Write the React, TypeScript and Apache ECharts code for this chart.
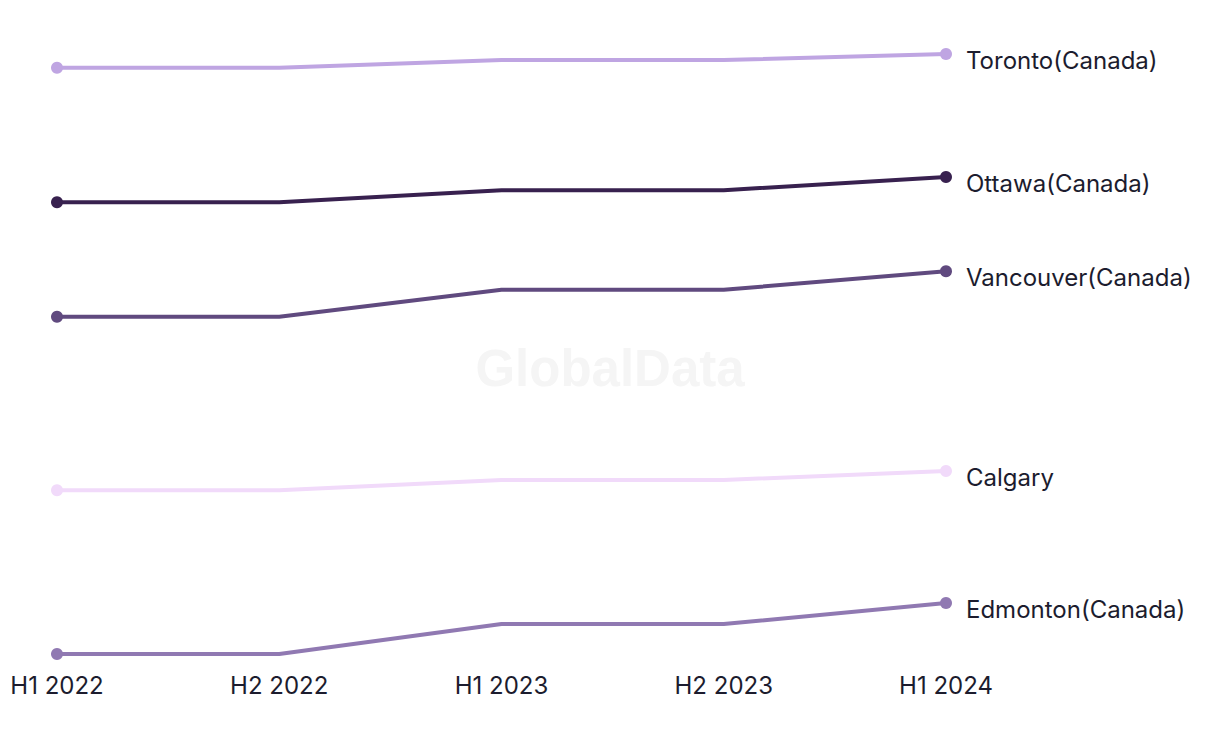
import React, { useEffect, useRef } from "react";
import * as echarts from "echarts";

const categories = ["H1 2022", "H2 2022", "H1 2023", "H2 2023", "H1 2024"];
const seriesNames = ["Toronto(Canada)", "Ottawa(Canada)", "Vancouver(Canada)", "Calgary", "Edmonton(Canada)"];
const toronto = [97.7, 97.7, 99.0, 99.0, 100.0];
const ottawa = [75.3, 75.3, 77.3, 77.3, 79.5];
const vancouver = [56.2, 56.2, 60.7, 60.7, 63.8];
const calgary = [27.3, 27.3, 29.0, 29.0, 30.5];
const edmonton = [0.0, 0.0, 5.0, 5.0, 8.5];
const seriesValues = [toronto, ottawa, vancouver, calgary, edmonton];
const colors = ["#bfa5e2", "#38214f", "#604a7f", "#f1dafa", "#9079b2"];

export default function App() {
  const ref = useRef<HTMLDivElement>(null);
  useEffect(() => {
    document.body.style.margin = "0";
    const chart = echarts.init(ref.current!, undefined, { renderer: "svg" });
    const font = "Inter, 'Noto Sans', sans-serif";
    chart.setOption({
      animation: false,
      backgroundColor: "#ffffff",
      graphic: [
        {
          type: "text",
          left: "center",
          top: 343,
          z: 0,
          style: {
            text: "GlobalData",
            fill: "#f5f5f5",
            font: "bold 51px 'Liberation Sans', Arial, sans-serif",
          },
        },
      ],
      grid: { left: 57, right: 274, top: 54, bottom: 90, containLabel: false },
      xAxis: {
        type: "category",
        data: categories,
        boundaryGap: false,
        axisLine: { show: false },
        axisTick: { show: false },
        splitLine: { show: false },
        axisLabel: { color: "#1c1c2e", fontSize: 24, fontFamily: font, margin: 19 },
      },
      yAxis: { type: "value", min: 0, max: 100, show: false, splitLine: { show: false } },
      series: seriesNames.map((name, i) => ({
        name,
        type: "line",
        z: 3,
        color: colors[i],
        lineStyle: { width: 4, color: colors[i] },
        symbol: "circle",
        symbolSize: 12,
        showAllSymbol: true,
        itemStyle: { color: colors[i] },
        data: seriesValues[i].map((v, j) => ({
          value: v,
          symbol: j === 0 || j === seriesValues[i].length - 1 ? "circle" : "none",
        })),
        endLabel: {
          show: true,
          formatter: name,
          color: "#1c1c2e",
          fontSize: 24,
          fontFamily: font,
          distance: 20,
          offset: [0, 6],
        },
      })),
    });
    return () => chart.dispose();
  }, []);
  return <div ref={ref} style={{ width: 1220, height: 744 }} />;
}
